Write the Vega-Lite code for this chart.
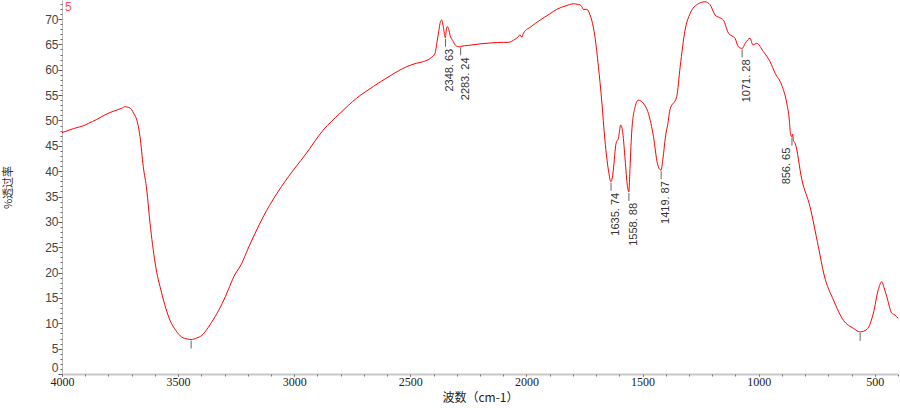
{
  "$schema": "https://vega.github.io/schema/vega-lite/v6.json",
  "width": 836,
  "height": 374,
  "autosize": {"type": "none"},
  "padding": {"left": 62, "top": 0, "right": 2, "bottom": 34},
  "background": "white",
  "config": {"view": {"stroke": null}, "axis": {"grid": false}},
  "datasets": {
    "spectrum": [
      {"wn": 4000, "t": 47.6}, {"wn": 3950, "t": 48.4}, {"wn": 3900, "t": 49.1}, {"wn": 3887, "t": 49.4},
      {"wn": 3850, "t": 50.2}, {"wn": 3815, "t": 51.1}, {"wn": 3780, "t": 51.8}, {"wn": 3743, "t": 52.4},
      {"wn": 3729, "t": 52.7}, {"wn": 3715, "t": 52.6}, {"wn": 3700, "t": 52.1}, {"wn": 3690, "t": 51.3},
      {"wn": 3678, "t": 50.1}, {"wn": 3664, "t": 46.8}, {"wn": 3650, "t": 40.9}, {"wn": 3635, "t": 36.3},
      {"wn": 3621, "t": 29.8}, {"wn": 3599, "t": 21.9}, {"wn": 3571, "t": 16.0}, {"wn": 3535, "t": 10.6},
      {"wn": 3510, "t": 8.6}, {"wn": 3485, "t": 7.3}, {"wn": 3460, "t": 6.9}, {"wn": 3444, "t": 6.8},
      {"wn": 3420, "t": 7.1}, {"wn": 3398, "t": 7.6}, {"wn": 3370, "t": 9.2}, {"wn": 3341, "t": 11.3},
      {"wn": 3310, "t": 13.9}, {"wn": 3284, "t": 16.6}, {"wn": 3260, "t": 19.2}, {"wn": 3226, "t": 21.8},
      {"wn": 3200, "t": 24.6}, {"wn": 3169, "t": 27.7}, {"wn": 3130, "t": 31.3}, {"wn": 3083, "t": 35.0},
      {"wn": 3025, "t": 38.9}, {"wn": 2953, "t": 43.2}, {"wn": 2875, "t": 48.1}, {"wn": 2803, "t": 51.4},
      {"wn": 2731, "t": 54.4}, {"wn": 2659, "t": 56.7}, {"wn": 2587, "t": 58.8}, {"wn": 2516, "t": 60.6},
      {"wn": 2472, "t": 61.3}, {"wn": 2444, "t": 61.6}, {"wn": 2410, "t": 62.4}, {"wn": 2394, "t": 63.2},
      {"wn": 2385, "t": 65.5}, {"wn": 2379, "t": 67.2}, {"wn": 2370, "t": 69.5}, {"wn": 2365, "t": 69.8},
      {"wn": 2360, "t": 69.0}, {"wn": 2355, "t": 67.6}, {"wn": 2349, "t": 66.3}, {"wn": 2345, "t": 68.0},
      {"wn": 2341, "t": 68.5}, {"wn": 2334, "t": 67.9}, {"wn": 2329, "t": 66.8}, {"wn": 2318, "t": 65.8},
      {"wn": 2307, "t": 64.9}, {"wn": 2290, "t": 64.5}, {"wn": 2283, "t": 64.6}, {"wn": 2250, "t": 64.8},
      {"wn": 2200, "t": 65.1}, {"wn": 2150, "t": 65.3}, {"wn": 2100, "t": 65.4}, {"wn": 2078, "t": 65.4},
      {"wn": 2050, "t": 66.0}, {"wn": 2035, "t": 66.5}, {"wn": 2028, "t": 66.9}, {"wn": 2020, "t": 66.4},
      {"wn": 2013, "t": 67.2}, {"wn": 1980, "t": 68.5}, {"wn": 1941, "t": 69.8}, {"wn": 1900, "t": 71.0},
      {"wn": 1870, "t": 71.9}, {"wn": 1830, "t": 72.6}, {"wn": 1798, "t": 73.0}, {"wn": 1780, "t": 72.9},
      {"wn": 1769, "t": 72.8}, {"wn": 1760, "t": 72.3}, {"wn": 1755, "t": 71.9}, {"wn": 1740, "t": 71.9},
      {"wn": 1726, "t": 70.8}, {"wn": 1719, "t": 69.8}, {"wn": 1705, "t": 66.5}, {"wn": 1690, "t": 60.6},
      {"wn": 1676, "t": 54.0}, {"wn": 1662, "t": 46.1}, {"wn": 1647, "t": 40.2}, {"wn": 1636, "t": 37.9},
      {"wn": 1630, "t": 38.8}, {"wn": 1626, "t": 40.2}, {"wn": 1614, "t": 45.5}, {"wn": 1604, "t": 46.5},
      {"wn": 1594, "t": 49.1}, {"wn": 1585, "t": 47.5}, {"wn": 1575, "t": 42.2}, {"wn": 1565, "t": 37.0},
      {"wn": 1559, "t": 35.9}, {"wn": 1555, "t": 39.5}, {"wn": 1547, "t": 47.5}, {"wn": 1532, "t": 52.7},
      {"wn": 1518, "t": 54.0}, {"wn": 1497, "t": 53.4}, {"wn": 1475, "t": 51.4}, {"wn": 1453, "t": 46.8},
      {"wn": 1436, "t": 41.5}, {"wn": 1425, "t": 40.3}, {"wn": 1420, "t": 40.2}, {"wn": 1413, "t": 42.2},
      {"wn": 1399, "t": 47.5}, {"wn": 1393, "t": 48.8}, {"wn": 1382, "t": 52.1}, {"wn": 1353, "t": 54.7},
      {"wn": 1338, "t": 60.6}, {"wn": 1317, "t": 67.8}, {"wn": 1295, "t": 71.1}, {"wn": 1260, "t": 73.0},
      {"wn": 1231, "t": 73.4}, {"wn": 1209, "t": 72.8}, {"wn": 1188, "t": 70.8}, {"wn": 1170, "t": 70.3},
      {"wn": 1152, "t": 69.8}, {"wn": 1130, "t": 67.2}, {"wn": 1102, "t": 66.2}, {"wn": 1087, "t": 64.5},
      {"wn": 1071, "t": 64.2}, {"wn": 1058, "t": 65.2}, {"wn": 1037, "t": 66.2}, {"wn": 1025, "t": 64.9},
      {"wn": 1008, "t": 65.2}, {"wn": 980, "t": 63.6}, {"wn": 951, "t": 61.6}, {"wn": 929, "t": 59.3},
      {"wn": 901, "t": 57.0}, {"wn": 879, "t": 53.4}, {"wn": 868, "t": 50.1}, {"wn": 863, "t": 47.4},
      {"wn": 857, "t": 46.8}, {"wn": 854, "t": 47.3}, {"wn": 850, "t": 46.0}, {"wn": 843, "t": 45.5},
      {"wn": 814, "t": 38.3}, {"wn": 779, "t": 33.0}, {"wn": 743, "t": 25.1}, {"wn": 718, "t": 19.5},
      {"wn": 678, "t": 14.6}, {"wn": 635, "t": 10.6}, {"wn": 592, "t": 9.0}, {"wn": 563, "t": 8.3},
      {"wn": 534, "t": 8.8}, {"wn": 506, "t": 12.0}, {"wn": 485, "t": 16.6}, {"wn": 470, "t": 18.2},
      {"wn": 460, "t": 17.0}, {"wn": 448, "t": 15.2}, {"wn": 427, "t": 12.0}, {"wn": 420, "t": 11.8},
      {"wn": 413, "t": 11.6}, {"wn": 400, "t": 11.0}
    ],
    "peaks": [
      {"wn": 2348.63, "t": 66.3, "label": "2348. 63"},
      {"wn": 2283.24, "t": 64.6, "label": "2283. 24"},
      {"wn": 1635.74, "t": 37.9, "label": "1635. 74"},
      {"wn": 1558.88, "t": 35.9, "label": "1558. 88"},
      {"wn": 1419.87, "t": 40.2, "label": "1419. 87"},
      {"wn": 1071.28, "t": 64.2, "label": "1071. 28"},
      {"wn": 856.65, "t": 46.8, "label": "856. 65"},
      {"wn": 3444, "t": 6.8, "label": ""},
      {"wn": 563, "t": 8.3, "label": ""}
    ],
    "sample": [{"name": "5"}]
  },
  "layer": [
    {
      "data": {"name": "spectrum"},
      "mark": {"type": "line", "color": "#ff0000", "strokeWidth": 1, "interpolate": "monotone"},
      "encoding": {
        "x": {
          "field": "wn", "type": "quantitative",
          "scale": {"domain": [400, 4000], "reverse": true, "nice": false, "zero": false},
          "axis": {
            "orient": "bottom",
            "values": [500, 1000, 1500, 2000, 2500, 3000, 3500, 4000],
            "format": "d",
            "title": "波数（cm-1）", "titleFont": "Noto Sans CJK SC", "titleFontSize": 12,
            "titleFontWeight": "normal", "titleColor": "#222", "titleY": 23, "titleBaseline": "middle",
            "labelFont": "Liberation Serif", "labelFontSize": 12, "labelColor": "#222",
            "labelPadding": 0, "labelFlush": false, "labelOverlap": false,
            "tickSize": 2, "tickColor": "#555", "domainColor": "#c8c8c8", "domainWidth": 2
          }
        },
        "y": {
          "field": "t", "type": "quantitative",
          "scale": {"domain": [0, 73.75], "nice": false, "zero": false},
          "axis": {
            "orient": "left",
            "values": [0, 5, 10, 15, 20, 25, 30, 35, 40, 45, 50, 55, 60, 65, 70],
            "format": "d",
            "title": "%透过率", "titleFont": "Noto Sans CJK SC", "titleFontSize": 11,
            "titleFontWeight": "normal", "titleColor": "#333", "titleX": -54, "titleY": 187,
            "titleBaseline": "middle",
            "labelFont": "Liberation Sans", "labelFontSize": 12, "labelColor": "#444",
            "labelPadding": 0, "labelFlush": true, "labelOverlap": false,
            "tickSize": 4, "tickColor": "#555", "domainColor": "#bbbbbb", "domainWidth": 1
          }
        }
      }
    },
    {
      "data": {"name": "peaks"},
      "mark": {"type": "rule", "color": "#666666", "strokeWidth": 1, "yOffset": 1, "y2Offset": 9},
      "encoding": {
        "x": {
          "field": "wn", "type": "quantitative",
          "scale": {"domain": [400, 4000], "reverse": true, "nice": false, "zero": false},
          "axis": {
            "orient": "bottom",
            "values": [400, 500, 600, 700, 800, 900, 1000, 1100, 1200, 1300, 1400, 1500, 1600, 1700, 1800, 1900, 2000, 2100, 2200, 2300, 2400, 2500, 2600, 2700, 2800, 2900, 3000, 3100, 3200, 3300, 3400, 3500, 3600, 3700, 3800, 3900, 4000],
            "labels": false, "domain": false, "title": null, "tickSize": 2, "tickColor": "#777"
          }
        },
        "y": {
          "field": "t", "type": "quantitative",
          "scale": {"domain": [0, 73.75], "nice": false, "zero": false},
          "axis": {
            "orient": "left",
            "values": [0, 1, 2, 3, 4, 5, 6, 7, 8, 9, 10, 11, 12, 13, 14, 15, 16, 17, 18, 19, 20, 21, 22, 23, 24, 25, 26, 27, 28, 29, 30, 31, 32, 33, 34, 35, 36, 37, 38, 39, 40, 41, 42, 43, 44, 45, 46, 47, 48, 49, 50, 51, 52, 53, 54, 55, 56, 57, 58, 59, 60, 61, 62, 63, 64, 65, 66, 67, 68, 69, 70, 71, 72, 73],
            "labels": false, "domain": false, "title": null, "tickSize": 2, "tickColor": "#666"
          }
        },
        "y2": {"field": "t"}
      }
    },
    {
      "data": {"name": "peaks"},
      "transform": [{"filter": "datum.wn > 900"}],
      "mark": {"type": "text", "angle": 270, "align": "right", "baseline": "middle", "dx": -11, "dy": 5,
               "font": "Liberation Sans", "fontSize": 11, "color": "#333333"},
      "encoding": {
        "x": {"field": "wn", "type": "quantitative", "scale": {"domain": [400, 4000], "reverse": true, "nice": false, "zero": false}, "axis": null},
        "y": {"field": "t", "type": "quantitative", "scale": {"domain": [0, 73.75], "nice": false, "zero": false}, "axis": null},
        "text": {"field": "label"}
      }
    },
    {
      "data": {"name": "peaks"},
      "transform": [{"filter": "datum.wn < 900 && datum.label != ''"}],
      "mark": {"type": "text", "angle": 270, "align": "right", "baseline": "middle", "dx": -11, "dy": -5,
               "font": "Liberation Sans", "fontSize": 11, "color": "#333333"},
      "encoding": {
        "x": {"field": "wn", "type": "quantitative", "scale": {"domain": [400, 4000], "reverse": true, "nice": false, "zero": false}, "axis": null},
        "y": {"field": "t", "type": "quantitative", "scale": {"domain": [0, 73.75], "nice": false, "zero": false}, "axis": null},
        "text": {"field": "label"}
      }
    },
    {
      "data": {"name": "sample"},
      "mark": {"type": "text", "align": "left", "baseline": "top", "dx": 3, "dy": 2,
               "font": "Liberation Sans", "fontSize": 12, "color": "#ff5050"},
      "encoding": {
        "x": {"datum": 4000, "type": "quantitative", "scale": {"domain": [400, 4000], "reverse": true, "nice": false, "zero": false}, "axis": null},
        "y": {"datum": 73.75, "type": "quantitative", "scale": {"domain": [0, 73.75], "nice": false, "zero": false}, "axis": null},
        "text": {"field": "name"}
      }
    }
  ],
  "resolve": {"axis": {"x": "independent", "y": "independent"}}
}
